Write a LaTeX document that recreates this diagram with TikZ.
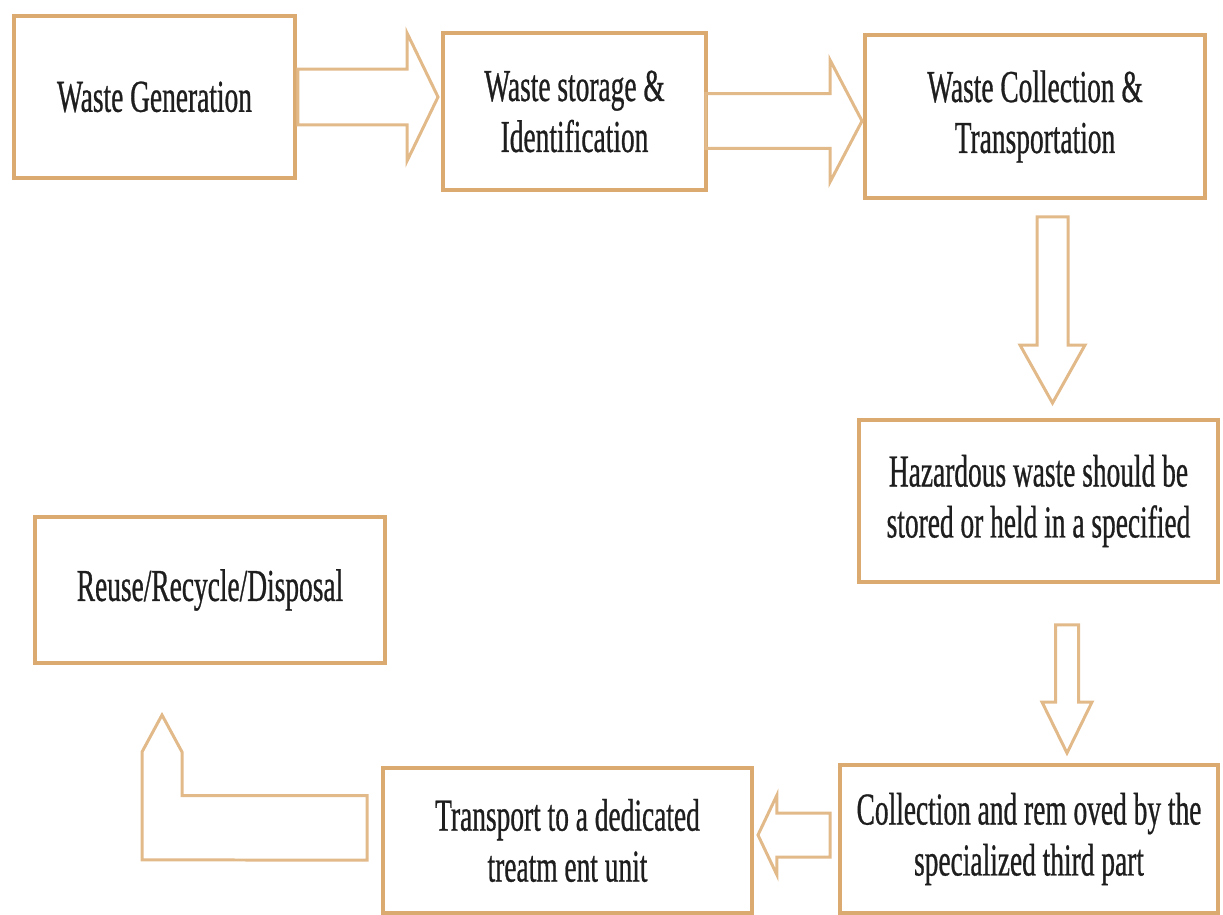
\documentclass[tikz,border=0pt]{standalone}
\usepackage{fontspec}
\setmainfont[FakeStretch=0.6, FakeBold=0.6]{Liberation Serif}
\usetikzlibrary{calc}

\definecolor{boxline}{RGB}{219,170,112}
\definecolor{arrline}{RGB}{226,186,138}
\definecolor{txt}{RGB}{30,30,30}

% hollow block arrow: start, tip, shaft half width, head half width, head length
\newcommand{\blockarrow}[5]{%
  \coordinate (ah) at ($(#2)!#5!(#1)$);
  \draw[blk] ($(#1)!#3!90:(#2)$) -- ($(ah)!#3!90:(#2)$) -- ($(ah)!#4!90:(#2)$)
    -- (#2) -- ($(ah)!#4!-90:(#2)$) -- ($(ah)!#3!-90:(#2)$) -- ($(#1)!#3!-90:(#2)$) -- cycle;
}

\begin{document}
\begin{tikzpicture}[
		x=0.02cm, y=-0.02cm,
		every node/.style={font=\fontsize{26}{29}\selectfont, align=center, text=txt},
		box/.style={draw=boxline, line width=0.08cm, inner sep=0pt, outer sep=0pt},
		blk/.style={draw=arrline, line width=0.06cm, line join=miter}
	]
		\useasboundingbox (0,0) rectangle (1223,915);

		\node[box, minimum width=5.62cm, minimum height=3.24cm] (gen) at (154.5, 97) {Waste Generation};
		\node[box, minimum width=5.26cm, minimum height=3.14cm] (store) at (574.5, 111.5) {Waste storage \&\\ Identification};
		\node[box, minimum width=6.8cm, minimum height=3.26cm] (coll) at (1035, 116.5) {Waste Collection \&\\ Transportation};
		\node[box, minimum width=7.2cm, minimum height=3.24cm] (haz) at (1038.5, 501) {Hazardous waste should be\\ stored or held in a specified};
		\node[box, minimum width=7.0cm, minimum height=2.92cm] (reuse) at (210, 590) {Reuse/Recycle/Disposal};
		\node[box, minimum width=7.38cm, minimum height=2.9cm] (trans) at (567.5, 840.5) {Transport to a dedicated\\ treatm ent unit};
		\node[box, minimum width=7.56cm, minimum height=2.96cm] (third) at (1029, 839) {Collection and rem oved by the\\ specialized third part};

		\coordinate (a1s) at ($(gen.east)+(3,0)$);
		\coordinate (a1t) at ($(store.west |- a1s)+(-5,0)$);
		\blockarrow{a1s}{a1t}{0.56cm}{1.28cm}{0.62cm}

		\coordinate (a2s) at ($(store.east)+(0,9.5)$);
		\coordinate (a2t) at ($(coll.west |- a2s)+(-3,0)$);
		\blockarrow{a2s}{a2t}{0.55cm}{1.22cm}{0.64cm}

		\coordinate (a3s) at ($(coll.south)+(17.5,19)$);
		\coordinate (a3t) at ($(haz.north -| a3s)+(0,-17)$);
		\blockarrow{a3s}{a3t}{0.31cm}{0.65cm}{1.16cm}

		\coordinate (a4s) at ($(haz.south)+(28.5,43)$);
		\coordinate (a4t) at ($(third.north -| a4s)+(0,-12)$);
		\blockarrow{a4s}{a4t}{0.23cm}{0.5cm}{1.02cm}

		\coordinate (a5s) at ($(third.west)+(-10,-4)$);
		\coordinate (a5t) at ($(trans.east |- a5s)+(6,0)$);
		\blockarrow{a5s}{a5t}{0.44cm}{0.8cm}{0.38cm}

		% bent arrow back up to the last box
		\coordinate (a6t) at ($(reuse.south)+(-48,52)$);
		\draw[blk] ($(trans.west)+(-16,-45)$) -- ++(-185,0) -- ++(0,-43.5) -- (a6t)
			-- ++(-20,37) -- ++(0,108) -- ($(trans.west)+(-16,19.5)$) -- cycle;
	\end{tikzpicture}
\end{document}
